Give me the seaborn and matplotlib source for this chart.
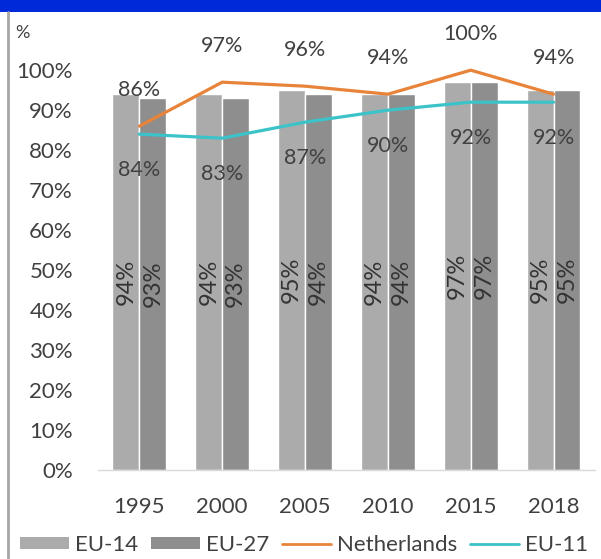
import numpy as np
import pandas as pd
import matplotlib
matplotlib.use("Agg")
import matplotlib.pyplot as plt
import seaborn as sns
from matplotlib.patches import Patch, Rectangle
from matplotlib.lines import Line2D
from matplotlib.ticker import PercentFormatter

# Datos
years = ["1995", "2000", "2005", "2010", "2015", "2018"]
eu14 = [0.94, 0.94, 0.95, 0.94, 0.97, 0.95]
eu27 = [0.93, 0.93, 0.94, 0.94, 0.97, 0.95]
netherlands = [0.86, 0.97, 0.96, 0.94, 1.00, 0.94]
eu11 = [0.84, 0.83, 0.87, 0.90, 0.92, 0.92]

C_EU14 = "#ababab"
C_EU27 = "#8e8e8e"
C_NL = "#e8843a"
C_EU11 = "#3cc3c9"
TXT = "#404040"

sns.set_theme(style="white")
plt.rcParams["font.family"] = ["Lato", "DejaVu Sans"]

df = pd.DataFrame({
    "year": years * 2,
    "value": eu14 + eu27,
    "group": ["EU-14"] * len(years) + ["EU-27"] * len(years),
})

fig = plt.figure(figsize=(6.01, 5.59), dpi=100)
ax = fig.add_axes([0.163, 0.159, 0.827, 0.787])

sns.barplot(data=df, x="year", y="value", hue="group",
            palette=[C_EU14, C_EU27], width=0.65, saturation=1,
            legend=False, ax=ax)

for cont in ax.containers:
    ax.bar_label(cont, labels=[f"{v*100:.0f}%" for v in cont.datavalues],
                 label_type="center", rotation=90, fontsize=17, color="#333333")

xpos = np.arange(len(years))
sns.lineplot(x=xpos, y=netherlands, color=C_NL, linewidth=2.3, ax=ax)
sns.lineplot(x=xpos, y=eu11, color=C_EU11, linewidth=2.3, ax=ax)

for x, v in zip(xpos, netherlands):
    ax.annotate(f"{v*100:.0f}%", (x, v), xytext=(0, 26), textcoords="offset points",
                ha="center", va="center", fontsize=15.5, color=TXT)
for x, v in zip(xpos, eu11):
    ax.annotate(f"{v*100:.0f}%", (x, v), xytext=(0, -26), textcoords="offset points",
                ha="center", va="center", fontsize=15.5, color=TXT)

ax.set_ylim(0, 1.1)
ax.set_xlim(-0.5, len(years) - 0.5)
ax.set_yticks(np.arange(0, 1.01, 0.1))
ax.yaxis.set_major_formatter(PercentFormatter(1.0, decimals=0))
ax.tick_params(axis="both", length=0, labelsize=16, labelcolor=TXT)
ax.tick_params(axis="x", pad=19)
ax.tick_params(axis="y", pad=18)
ax.set_xlabel("")
ax.set_ylabel("")
for s in ["top", "right", "left"]:
    ax.spines[s].set_visible(False)
ax.spines["bottom"].set_color("#d9d9d9")
ax.spines["bottom"].set_linewidth(1)

fig.text(0.025, 0.941, "%", fontsize=13, color=TXT, ha="left", va="center")

# Banda azul superior y línea lateral
fig.patches.append(Rectangle((0, 1 - 12 / 559), 1, 12 / 559, transform=fig.transFigure,
                             facecolor="#0029d9", edgecolor="none"))
fig.lines.append(Line2D([8 / 601, 8 / 601], [0, 1 - 12 / 559], transform=fig.transFigure,
                        color="#a6a6a6", linewidth=2))

handles = [
    Patch(facecolor=C_EU14, edgecolor="none"),
    Patch(facecolor=C_EU27, edgecolor="none"),
    Line2D([], [], color=C_NL, linewidth=2),
    Line2D([], [], color=C_EU11, linewidth=2),
]
fig.legend(handles, ["EU-14", "EU-27", "Netherlands", "EU-11"], loc="center left",
           bbox_to_anchor=(0.033, 0.025), ncol=4, frameon=False, fontsize=16,
           handlelength=2.2, handleheight=0.4, handletextpad=0.3, columnspacing=0.55,
           labelcolor=TXT, borderaxespad=0, borderpad=0)

fig.savefig("out.png", dpi=100)
